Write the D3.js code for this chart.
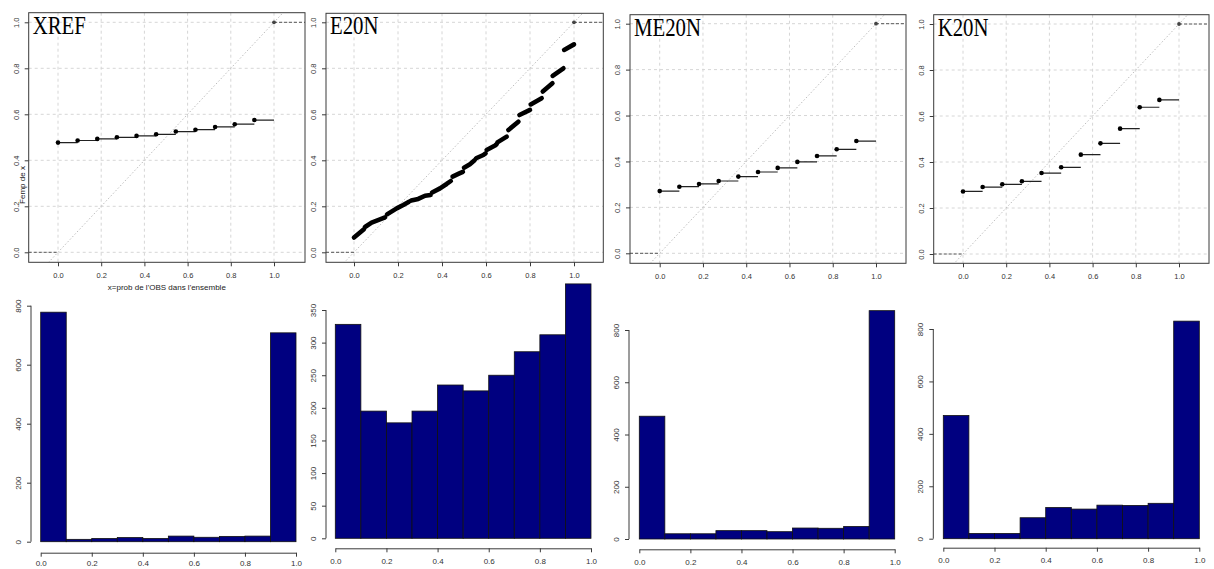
<!DOCTYPE html>
<html><head><meta charset="utf-8">
<script src="https://cdn.jsdelivr.net/npm/d3@7"></script>
<style>body{margin:0;background:#fff}svg{display:block}</style>
</head><body>
<svg id="c" width="1214" height="569"></svg>
<script>
// ---------------- DATA ----------------
const panelNames = ["XREF", "E20N", "ME20N", "K20N"];
const rankPositions = [0, 0.0909, 0.1818, 0.2727, 0.3636, 0.4545, 0.5455, 0.6364, 0.7273, 0.8182, 0.9091];
const xrefFemp  = [0.477, 0.486, 0.493, 0.500, 0.506, 0.513, 0.525, 0.533, 0.545, 0.557, 0.575];
const me20nFemp = [0.271, 0.290, 0.302, 0.315, 0.334, 0.354, 0.372, 0.398, 0.424, 0.453, 0.489];
const k20nFemp  = [0.272, 0.291, 0.303, 0.316, 0.352, 0.377, 0.432, 0.481, 0.545, 0.638, 0.670];
// E20N empirical curve read as runs of (x, Femp) points
const e20nRuns = [
  [[0, 0.064], [0.045, 0.100]],
  [[0.05, 0.110], [0.08, 0.129], [0.118, 0.143], [0.141, 0.152]],
  [[0.15, 0.165], [0.194, 0.191], [0.224, 0.206], [0.25, 0.220]],
  [[0.26, 0.225], [0.292, 0.232], [0.323, 0.246], [0.348, 0.249]],
  [[0.355, 0.260], [0.391, 0.278], [0.421, 0.297], [0.44, 0.310]],
  [[0.448, 0.329], [0.479, 0.343], [0.495, 0.350]],
  [[0.50, 0.368], [0.527, 0.383], [0.548, 0.400]],
  [[0.555, 0.409], [0.588, 0.423], [0.598, 0.430]],
  [[0.603, 0.445], [0.641, 0.464], [0.648, 0.470]],
  [[0.652, 0.478], [0.694, 0.503]],
  [[0.702, 0.532], [0.747, 0.568]],
  [[0.752, 0.597], [0.80, 0.619]],
  [[0.803, 0.643], [0.853, 0.670]],
  [[0.858, 0.699], [0.902, 0.735]],
  [[0.903, 0.767], [0.952, 0.800]],
  [[0.955, 0.880], [1.0, 0.904]]
];
const unitTicks = [0, 0.2, 0.4, 0.6, 0.8, 1.0];
const binEdges = [0, 0.1, 0.2, 0.3, 0.4, 0.5, 0.6, 0.7, 0.8, 0.9, 1.0];
const xrefCounts  = [778, 8, 11, 14, 11, 19, 15, 18, 19, 708];
const e20nCounts  = [328, 195, 177, 195, 235, 226, 250, 286, 312, 390];
const me20nCounts = [470, 20, 20, 32, 32, 28, 42, 41, 48, 874];
const k20nCounts  = [470, 20, 20, 80, 119, 113, 128, 127, 135, 830];
const countTicksA = [0, 200, 400, 600, 800];
const countTicksB = [0, 50, 100, 150, 200, 250, 300, 350];
const xTitle = "x=prob de l'OBS dans l'ensemble";
const yTitle = "Femp de x";

// ---------------- LAYOUT ----------------
const topLayout = [
  {left: 28.7,right: 305,   top: 12.7, bottom: 262.3, x0: 58,    x1: 274,  y0: 252.3, y1: 22.3},
  {left: 326,  right: 603.3, top: 13.3, bottom: 262.3, x0: 354,   x1: 574,  y0: 252.3, y1: 22.3},
  {left: 630,  right: 906,   top: 14.7, bottom: 263.3, x0: 659.7, x1: 876,  y0: 253.3, y1: 23.7},
  {left: 933.7,right: 1209,  top: 14.7, bottom: 263.3, x0: 963,   x1: 1179, y0: 254,   y1: 24}
];
const histLayout = [
  {x0: 40.7,  x1: 296,    y0: 541.7, ref: 800, refPx: 305.7, axisX: 31,    axisY: 552.7},
  {x0: 335.3, x1: 591,    y0: 538.3, ref: 350, refPx: 310,   axisX: 326,   axisY: 548.3},
  {x0: 639.3, x1: 894.7,  y0: 539,   ref: 800, refPx: 330,   axisX: 629,   axisY: 549.3},
  {x0: 943.3, x1: 1199.3, y0: 538.7, ref: 800, refPx: 329,   axisX: 933.3, axisY: 547.7}
];
const stepSeries = [xrefFemp, null, me20nFemp, k20nFemp];
const histSeries = [xrefCounts, e20nCounts, me20nCounts, k20nCounts];
const histTicks = [countTicksA, countTicksB, countTicksA, countTicksA];

const svg = d3.select("#c");
const fmt = d3.format(".1f");
const tickFont = "'Liberation Sans', Arial, sans-serif";

function styleAxis(g, fontSize) {
  g.selectAll("path.domain").attr("stroke", "#3a3a3a").attr("stroke-width", 1);
  g.selectAll(".tick line").attr("stroke", "#3a3a3a").attr("stroke-width", 1);
  g.selectAll(".tick text").attr("fill", "#333").style("font-family", tickFont).style("font-size", fontSize + "px");
}
function rotateYLabels(g) {
  g.selectAll(".tick text")
    .attr("transform", "rotate(-90)")
    .attr("x", 0).attr("y", -10).attr("dy", 0)
    .attr("text-anchor", "middle");
}

// ---------------- TOP ROW: empirical distribution plots ----------------
topLayout.forEach((L, i) => {
  const g = svg.append("g");
  const x = d3.scaleLinear().domain([0, 1]).range([L.x0, L.x1]);
  const y = d3.scaleLinear().domain([0, 1]).range([L.y0, L.y1]);
  const clipId = "clip" + i;
  svg.append("clipPath").attr("id", clipId).append("rect")
    .attr("x", L.left).attr("y", L.top).attr("width", L.right - L.left).attr("height", L.bottom - L.top);
  const inner = g.append("g").attr("clip-path", `url(#${clipId})`);

  // grid
  inner.selectAll("line.vg").data(unitTicks).join("line")
    .attr("x1", d => x(d)).attr("x2", d => x(d)).attr("y1", L.top).attr("y2", L.bottom)
    .attr("stroke", "#d6d6d6").attr("stroke-dasharray", "3,3").attr("stroke-width", 1);
  inner.selectAll("line.hg").data(unitTicks).join("line")
    .attr("y1", d => y(d)).attr("y2", d => y(d)).attr("x1", L.left).attr("x2", L.right)
    .attr("stroke", "#d6d6d6").attr("stroke-dasharray", "3,3").attr("stroke-width", 1);
  // diagonal
  inner.append("line")
    .attr("x1", x(-0.3)).attr("y1", y(-0.3)).attr("x2", x(1.3)).attr("y2", y(1.3))
    .attr("stroke", "#bdbdbd").attr("stroke-dasharray", "1.5,2").attr("stroke-width", 1);
  // dashed tails
  inner.append("line").attr("x1", L.left).attr("x2", x(0)).attr("y1", y(0)).attr("y2", y(0))
    .attr("stroke", "#555").attr("stroke-dasharray", "3,2").attr("stroke-width", 1);
  inner.append("line").attr("x1", x(1)).attr("x2", L.right).attr("y1", y(1)).attr("y2", y(1))
    .attr("stroke", "#555").attr("stroke-dasharray", "3,2").attr("stroke-width", 1);

  const s = stepSeries[i];
  if (s) {
    const pts = s.map((v, k) => ({x: rankPositions[k], xe: k + 1 < rankPositions.length ? rankPositions[k + 1] : 1, y: v}));
    inner.selectAll("line.st").data(pts).join("line")
      .attr("x1", d => x(d.x)).attr("x2", d => x(d.xe)).attr("y1", d => y(d.y)).attr("y2", d => y(d.y))
      .attr("stroke", "#222").attr("stroke-width", 1.2);
    inner.selectAll("circle.pt").data(pts).join("circle")
      .attr("cx", d => x(d.x)).attr("cy", d => y(d.y)).attr("r", 2.3).attr("fill", "#000");
  } else {
    const line = d3.line().x(d => x(d[0])).y(d => y(d[1]));
    inner.selectAll("path.run").data(e20nRuns).join("path")
      .attr("d", line).attr("fill", "none").attr("stroke", "#000")
      .attr("stroke-width", 4.6).attr("stroke-linecap", "round").attr("stroke-linejoin", "round");
  }
  inner.append("circle").attr("cx", x(1)).attr("cy", y(1)).attr("r", 1.9).attr("fill", "#444");

  // box
  g.append("rect").attr("x", L.left).attr("y", L.top).attr("width", L.right - L.left).attr("height", L.bottom - L.top)
    .attr("fill", "none").attr("stroke", "#3a3a3a").attr("stroke-width", 1);

  // axes
  const ax = g.append("g").attr("transform", `translate(0,${L.bottom})`)
    .call(d3.axisBottom(x).tickValues(unitTicks).tickFormat(fmt).tickSize(4).tickSizeOuter(0));
  ax.select("path.domain").remove();
  styleAxis(ax, 7.5);
  ax.selectAll(".tick text").attr("y", 10);
  const ay = g.append("g").attr("transform", `translate(${L.left},0)`)
    .call(d3.axisLeft(y).tickValues(unitTicks).tickFormat(fmt).tickSize(4).tickSizeOuter(0));
  ay.select("path.domain").remove();
  styleAxis(ay, 7.5);
  rotateYLabels(ay);

  // title
  g.append("text").attr("transform", `translate(${L.left + 4},${L.top + 21}) scale(1,1.2)`)
    .style("font-family", "'Liberation Serif', 'Times New Roman', serif").style("font-size", "20.8px")
    .attr("fill", "#000").text(panelNames[i]);

  if (i === 0) {
    g.append("text").attr("x", (L.left + L.right) / 2).attr("y", 290).attr("text-anchor", "middle")
      .style("font-family", tickFont).style("font-size", "8px").attr("fill", "#222").text(xTitle);
    g.append("text").attr("transform", `translate(25,185) rotate(-90)`).attr("text-anchor", "middle")
      .style("font-family", tickFont).style("font-size", "8px").attr("fill", "#222").text(yTitle);
  }
});

// ---------------- BOTTOM ROW: histograms ----------------
histLayout.forEach((L, i) => {
  const g = svg.append("g");
  const x = d3.scaleLinear().domain([0, 1]).range([L.x0, L.x1]);
  const y = d3.scaleLinear().domain([0, L.ref]).range([L.y0, L.refPx]);
  const counts = histSeries[i];
  const bins = counts.map((c, k) => ({a: binEdges[k], b: binEdges[k + 1], c}));
  g.selectAll("rect.bar").data(bins).join("rect")
    .attr("x", d => x(d.a)).attr("width", d => x(d.b) - x(d.a))
    .attr("y", d => y(d.c)).attr("height", d => y(0) - y(d.c))
    .attr("fill", "#000080").attr("stroke", "#111").attr("stroke-width", 0.8);

  const ax = g.append("g").attr("transform", `translate(0,${L.axisY})`)
    .call(d3.axisBottom(x).tickValues(unitTicks).tickFormat(fmt).tickSize(4).tickSizeOuter(0));
  styleAxis(ax, 8);
  ax.selectAll(".tick text").attr("y", Math.min(10, 560 - L.axisY));
  const ay = g.append("g").attr("transform", `translate(${L.axisX},0)`)
    .call(d3.axisLeft(y).tickValues(histTicks[i]).tickSize(4).tickSizeOuter(0));
  styleAxis(ay, 8);
  rotateYLabels(ay);
  ay.select("path.domain").attr("d", `M0,${y(0)}V${y(d3.max(histTicks[i]))}`);
});
</script>
</body></html>
